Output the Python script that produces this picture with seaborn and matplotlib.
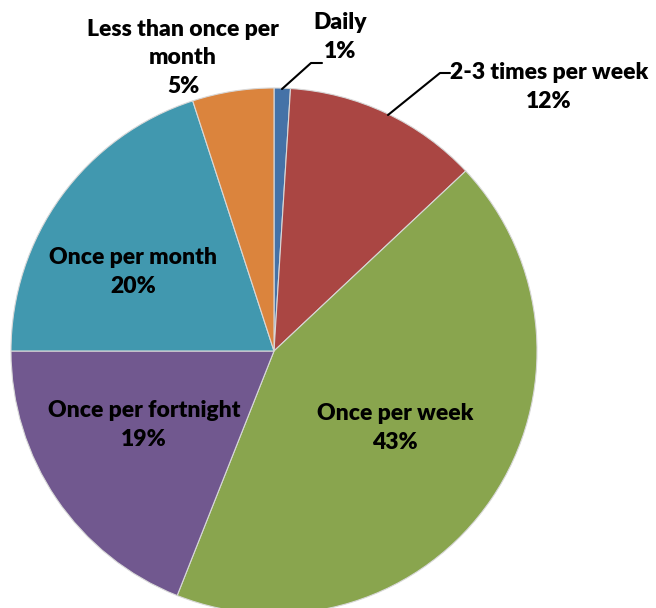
import matplotlib
matplotlib.use("Agg")
import matplotlib.pyplot as plt
import seaborn as sns

# Survey: how often respondents visit
categories = ["Daily", "2-3 times per week", "Once per week",
              "Once per fortnight", "Once per month", "Less than once per month"]
shares = [1, 12, 43, 19, 20, 5]
label_text = ["Daily", "2-3 times per week", "Once per week",
              "Once per fortnight", "Once per month", "Less than once per\nmonth"]
colors = ["#4572A7", "#AA4643", "#89A54E", "#71588F", "#4198AF", "#DB843D"]

sns.set_theme(style="white")
plt.rcParams["font.family"] = ["Lato", "DejaVu Sans"]

W, H = 656, 608
fig = plt.figure(figsize=(W / 100, H / 100), dpi=100)
ax = fig.add_axes([0, 0, 1, 1])

cx, cy, r = 274, H - 351, 263
ax.pie(shares, colors=sns.color_palette(colors), startangle=90, counterclock=False,
       center=(cx, cy), radius=r, frame=True,
       wedgeprops=dict(edgecolor="#d8d8d8", linewidth=0.8))
ax.set_xlim(0, W)
ax.set_ylim(0, H)
ax.set_aspect("equal")
ax.axis("off")

# label anchor points (pixel space, y from top)
label_pos = [(340, 37), (549, 87), (395, 428), (144, 425), (133, 272), (183, 58)]
for name, val, (x, y) in zip(label_text, shares, label_pos):
    ax.text(x, H - y, f"{name}\n{val}%", ha="center", va="center",
            fontsize=16.5, fontweight="heavy", color="black", linespacing=1.42)

# leader lines for the small slices
ax.plot([282, 311, 322], [H - 89, H - 63, H - 63], color="black", lw=1.5)
ax.plot([388, 440, 450], [H - 115, H - 73, H - 73], color="black", lw=1.5)

fig.savefig("out.png", dpi=100)
